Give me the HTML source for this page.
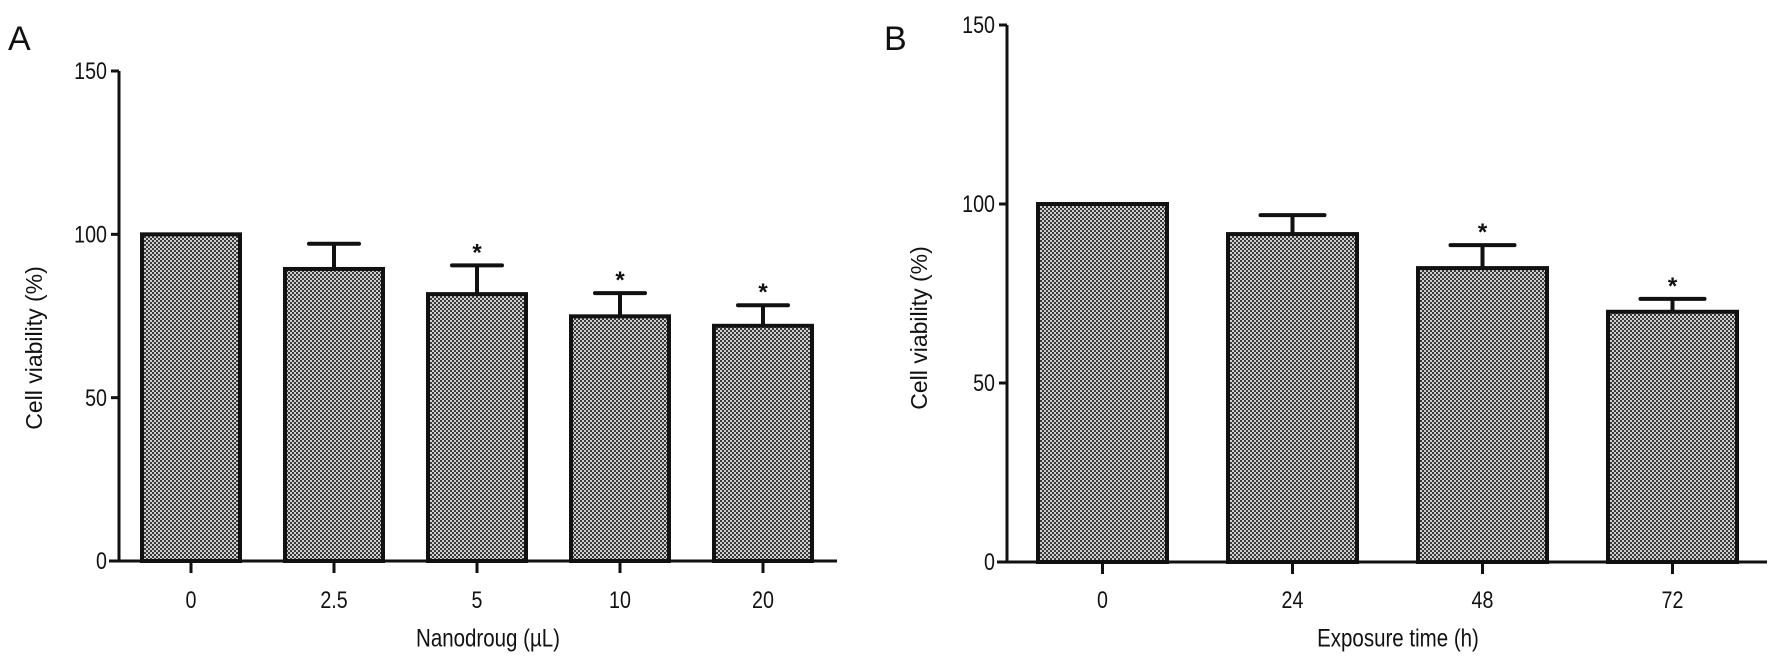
<!DOCTYPE html>
<html><head><meta charset="utf-8"><style>
html,body{margin:0;padding:0;background:#fff;}
svg{display:block;}
text{font-family:"Liberation Sans",sans-serif;fill:#111;}
</style></head><body>
<svg id="c" width="1777" height="658" viewBox="0 0 1777 658" xmlns="http://www.w3.org/2000/svg">
<defs>
<pattern id="chk" width="4" height="4" patternUnits="userSpaceOnUse">
<rect width="4" height="4" fill="#cfcfcf"/>
<rect width="2" height="2" fill="#3a3a3a"/>
<rect x="2" y="2" width="2" height="2" fill="#3a3a3a"/>
</pattern>
</defs>
</svg>
<script>
const catsA = ["0","2.5","5","10","20"];
const valsA = [100, 89.4, 81.7, 74.9, 72];
const errA = [0, 97.1, 90.5, 82, 78.3];
const sigA = [false, false, true, true, true];
const catsB = ["0","24","48","72"];
const valsB = [100, 91.6, 82.1, 69.9];
const errB = [0, 96.9, 88.5, 73.5];
const sigB = [false, false, true, true];
const ticks = [0, 50, 100, 150];

const svg = document.getElementById('c');
const NS = 'http://www.w3.org/2000/svg';
function mk(tag, attrs, parent){
  const e = document.createElementNS(NS, tag);
  for (const k in attrs) e.setAttribute(k, attrs[k]);
  (parent||svg).appendChild(e);
  return e;
}
function txt(s, x, y, size, anchor, parent, rot){
  const g = mk('g', {transform: 'translate('+x+','+y+')' + (rot?' rotate(-90)':'') + ' scale(0.82,1)'}, parent);
  const t = mk('text', {x:0, y:0, 'font-size':size, 'text-anchor':anchor, 'dominant-baseline':'central'}, g);
  t.textContent = s;
  return t;
}

function panel(cfg){
  const g = mk('g', {});
  
  
  const y = v => cfg.y0 - v * (cfg.y0 - cfg.y150) / 150;
  const x = i => cfg.x0 + i * cfg.step;
  // y axis
  const ya = mk('line', {x1:cfg.ax, y1:cfg.y150, x2:cfg.ax, y2:cfg.y0, stroke:'#111', 'stroke-width':3}, g);
  
  
  ticks.forEach(t => {
    mk('line', {x1:cfg.ax-8, y1:y(t), x2:cfg.ax, y2:y(t), stroke:'#111', 'stroke-width':3}, g);
    const l = txt(String(t), cfg.ax-12, y(t), 24, 'end', g);
    
    
  });
  // x axis
  const xa = mk('line', {x1:cfg.ax-10, y1:cfg.y0, x2:cfg.xend, y2:cfg.y0, stroke:'#111', 'stroke-width':3}, g);
  
  
  cfg.cats.forEach((c, i) => {
    const cx = x(i);
    mk('line', {x1:cx, y1:cfg.y0, x2:cx, y2:cfg.y0+12, stroke:'#111', 'stroke-width':3}, g);
    const l = txt(c, cx, 600, 24, 'middle', g);
    
    
    // error bar
    if (cfg.err[i] > cfg.vals[i]) {
      const eb = mk('path', {d:'M'+cx+','+y(cfg.vals[i])+'V'+y(cfg.err[i])+'M'+(cx-cfg.cap/2)+','+y(cfg.err[i])+'H'+(cx+cfg.cap/2), stroke:'#111', 'stroke-width':4, fill:'none', 'stroke-linecap':'round'}, g);
      
      
    }
    const b = mk('rect', {x:cx-cfg.bw/2, y:y(cfg.vals[i]), width:cfg.bw, height:cfg.y0-y(cfg.vals[i]), fill:'url(#chk)', stroke:'#111', 'stroke-width':4}, g);
    
    
    if (cfg.sig[i]) {
      const s = mk('text', {x:cx, y:y(cfg.err[i])-5, 'font-size':24, 'font-weight':'bold', 'text-anchor':'middle'}, g);
      s.textContent = '*';
      
      
    }
  });
  const xt = txt(cfg.xtitle, cfg.xtx, 638, 25, 'middle', g);
  
  
  const yt = mk('text', {x:0, y:0, 'font-size':23, 'text-anchor':'middle', 'dominant-baseline':'central', transform:'translate('+cfg.ytx+','+cfg.yty+') rotate(-90)'}, g);
  yt.textContent = 'Cell viability (%)';
  
  
  const pl = mk('text', {x:cfg.lx, y:cfg.ly, 'font-size':34}, g);
  pl.textContent = cfg.label;
  
  
}

panel({name:'panel-a', cats:catsA, vals:valsA, err:errA, sig:sigA, ax:119, y0:561, y150:71, xend:837,
  x0:191, step:143, bw:98, cap:50, xtitle:'Nanodroug (\u00b5L)', xtx:488, ytx:34, yty:348, label:'A', lx:8, ly:50});
panel({name:'panel-b', cats:catsB, vals:valsB, err:errB, sig:sigB, ax:1007, y0:562, y150:25, xend:1767,
  x0:1102.5, step:190, bw:129, cap:64, xtitle:'Exposure time (h)', xtx:1398, ytx:919, yty:328, label:'B', lx:884, ly:50});
</script>
</body></html>
